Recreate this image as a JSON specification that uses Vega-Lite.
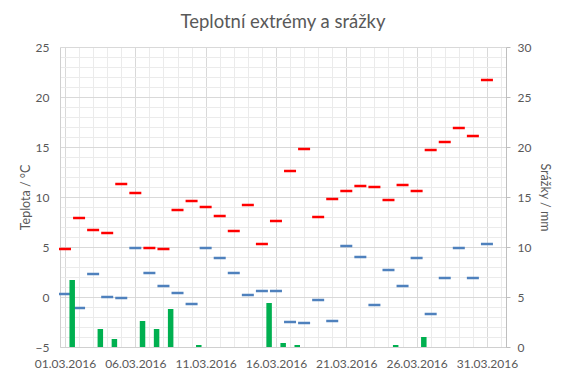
{
  "$schema": "https://vega.github.io/schema/vega-lite/v6.json",
  "width": 446,
  "height": 300,
  "autosize": {"type": "none"},
  "padding": {"left": 60, "top": 47, "right": 61, "bottom": 31},
  "background": "white",
  "title": {"text": "Teplotní extrémy a srážky", "fontSize": 18.5, "fontWeight": "normal", "color": "#595959", "anchor": "middle", "offset": 10},
  "config": {"font": "Lato", "view": {"stroke": null}},
  "data": {"values": [
    {"date": "2016-03-01T00:00", "tmax": 4.8, "tmin": 0.3, "srazky": 6.7},
    {"date": "2016-03-02T00:00", "tmax": 7.9, "tmin": -1.1, "srazky": 0},
    {"date": "2016-03-03T00:00", "tmax": 6.7, "tmin": 2.3, "srazky": 1.8},
    {"date": "2016-03-04T00:00", "tmax": 6.4, "tmin": 0.0, "srazky": 0.8},
    {"date": "2016-03-05T00:00", "tmax": 11.3, "tmin": -0.1, "srazky": 0},
    {"date": "2016-03-06T00:00", "tmax": 10.4, "tmin": 4.9, "srazky": 2.6},
    {"date": "2016-03-07T00:00", "tmax": 4.9, "tmin": 2.4, "srazky": 1.8},
    {"date": "2016-03-08T00:00", "tmax": 4.8, "tmin": 1.1, "srazky": 3.8},
    {"date": "2016-03-09T00:00", "tmax": 8.7, "tmin": 0.4, "srazky": 0},
    {"date": "2016-03-10T00:00", "tmax": 9.6, "tmin": -0.7, "srazky": 0.2},
    {"date": "2016-03-11T00:00", "tmax": 9.0, "tmin": 4.9, "srazky": 0},
    {"date": "2016-03-12T00:00", "tmax": 8.1, "tmin": 3.9, "srazky": 0},
    {"date": "2016-03-13T00:00", "tmax": 6.6, "tmin": 2.4, "srazky": 0},
    {"date": "2016-03-14T00:00", "tmax": 9.2, "tmin": 0.2, "srazky": 0},
    {"date": "2016-03-15T00:00", "tmax": 5.3, "tmin": 0.6, "srazky": 4.4},
    {"date": "2016-03-16T00:00", "tmax": 7.6, "tmin": 0.6, "srazky": 0.4},
    {"date": "2016-03-17T00:00", "tmax": 12.6, "tmin": -2.5, "srazky": 0.2},
    {"date": "2016-03-18T00:00", "tmax": 14.8, "tmin": -2.6, "srazky": 0},
    {"date": "2016-03-19T00:00", "tmax": 8.0, "tmin": -0.3, "srazky": 0},
    {"date": "2016-03-20T00:00", "tmax": 9.8, "tmin": -2.4, "srazky": 0},
    {"date": "2016-03-21T00:00", "tmax": 10.6, "tmin": 5.1, "srazky": 0},
    {"date": "2016-03-22T00:00", "tmax": 11.1, "tmin": 4.0, "srazky": 0},
    {"date": "2016-03-23T00:00", "tmax": 11.0, "tmin": -0.8, "srazky": 0},
    {"date": "2016-03-24T00:00", "tmax": 9.7, "tmin": 2.7, "srazky": 0.2},
    {"date": "2016-03-25T00:00", "tmax": 11.2, "tmin": 1.1, "srazky": 0},
    {"date": "2016-03-26T00:00", "tmax": 10.6, "tmin": 3.9, "srazky": 1.0},
    {"date": "2016-03-27T00:00", "tmax": 14.7, "tmin": -1.7, "srazky": 0},
    {"date": "2016-03-28T00:00", "tmax": 15.5, "tmin": 1.9, "srazky": 0},
    {"date": "2016-03-29T00:00", "tmax": 16.9, "tmin": 4.9, "srazky": 0},
    {"date": "2016-03-30T00:00", "tmax": 16.1, "tmin": 1.9, "srazky": 0},
    {"date": "2016-03-31T00:00", "tmax": 21.7, "tmin": 5.3, "srazky": 0}
  ]},
  "encoding": {
    "x": {
      "field": "date", "type": "temporal",
      "scale": {"domain": [{"year": 2016, "month": 3, "date": 1}, {"year": 2016, "month": 4, "date": 1}]},
      "axis": {
        "title": null,
        "format": "%d.%m.%Y",
        "values": [
          {"year": 2016, "month": 3, "date": 1}, {"year": 2016, "month": 3, "date": 2}, {"year": 2016, "month": 3, "date": 3}, {"year": 2016, "month": 3, "date": 4},
          {"year": 2016, "month": 3, "date": 5}, {"year": 2016, "month": 3, "date": 6}, {"year": 2016, "month": 3, "date": 7}, {"year": 2016, "month": 3, "date": 8},
          {"year": 2016, "month": 3, "date": 9}, {"year": 2016, "month": 3, "date": 10}, {"year": 2016, "month": 3, "date": 11}, {"year": 2016, "month": 3, "date": 12},
          {"year": 2016, "month": 3, "date": 13}, {"year": 2016, "month": 3, "date": 14}, {"year": 2016, "month": 3, "date": 15}, {"year": 2016, "month": 3, "date": 16},
          {"year": 2016, "month": 3, "date": 17}, {"year": 2016, "month": 3, "date": 18}, {"year": 2016, "month": 3, "date": 19}, {"year": 2016, "month": 3, "date": 20},
          {"year": 2016, "month": 3, "date": 21}, {"year": 2016, "month": 3, "date": 22}, {"year": 2016, "month": 3, "date": 23}, {"year": 2016, "month": 3, "date": 24},
          {"year": 2016, "month": 3, "date": 25}, {"year": 2016, "month": 3, "date": 26}, {"year": 2016, "month": 3, "date": 27}, {"year": 2016, "month": 3, "date": 28},
          {"year": 2016, "month": 3, "date": 29}, {"year": 2016, "month": 3, "date": 30}, {"year": 2016, "month": 3, "date": 31}, {"year": 2016, "month": 4, "date": 1}
        ],
        "labelExpr": "((date(datum.value) - 1) % 5 === 0 && month(datum.value) === 2) ? datum.label : ''",
        "labelOverlap": false,
        "labelBound": false,
        "labelFlush": false,
        "labelColor": "#595959",
        "labelFontSize": 12,
        "labelPadding": 11,
        "ticks": false,
        "domainColor": "#d0d0d0",
        "grid": true,
        "gridColor": {"condition": {"test": "(date(datum.value) - 1) % 5 === 0 && month(datum.value) === 2", "value": "#d9d9d9"}, "value": "#ebebeb"},
        "gridOpacity": 1
      }
    }
  },
  "layer": [
    {
      "transform": [{"fold": ["tmax", "tmin"], "as": ["druh", "teplota"]}],
      "mark": {"type": "tick", "orient": "horizontal", "thickness": 2.5, "size": 12, "opacity": 1},
      "encoding": {
        "color": {"field": "druh", "type": "nominal", "scale": {"domain": ["tmax", "tmin"], "range": ["#FF0000", "#4F81BD"]}, "legend": null},
        "y": {
          "field": "teplota", "type": "quantitative",
          "scale": {"domain": [-5, 25], "nice": false, "zero": false},
          "axis": {
            "title": "Teplota / °C",
            "titleColor": "#595959", "titleFontSize": 12.5, "titleFontWeight": "normal", "titlePadding": 3,
            "values": [-5, -4, -3, -2, -1, 0, 1, 2, 3, 4, 5, 6, 7, 8, 9, 10, 11, 12, 13, 14, 15, 16, 17, 18, 19, 20, 21, 22, 23, 24, 25],
            "labelExpr": "datum.value % 5 === 0 ? datum.label : ''",
            "labelOverlap": false,
            "labelBound": false,
            "labelFlush": false,
            "labelColor": "#595959", "labelFontSize": 12, "labelPadding": 11,
            "ticks": false,
            "domainColor": "#d0d0d0",
            "grid": true,
            "gridColor": {"condition": {"test": "datum.value % 5 === 0", "value": "#d9d9d9"}, "value": "#ebebeb"},
            "gridOpacity": 1
          }
        }
      }
    },
    {
      "transform": [{"filter": "datum.srazky > 0"}],
      "mark": {"type": "bar", "color": "#00B050", "width": 5.5, "xOffset": 7.2},
      "encoding": {
        "y": {
          "field": "srazky", "type": "quantitative",
          "scale": {"domain": [0, 30], "nice": false},
          "axis": {
            "orient": "right",
            "title": "Srážky / mm",
            "titleColor": "#595959", "titleFontSize": 12.5, "titleFontWeight": "normal", "titlePadding": 7,
            "values": [0, 5, 10, 15, 20, 25, 30],
            "labelColor": "#595959", "labelFontSize": 12, "labelPadding": 7,
            "ticks": true, "tickSize": 4, "tickColor": "#bfbfbf",
            "domainColor": "#bfbfbf",
            "grid": false
          }
        }
      }
    }
  ],
  "resolve": {"scale": {"y": "independent", "color": "independent"}}
}
